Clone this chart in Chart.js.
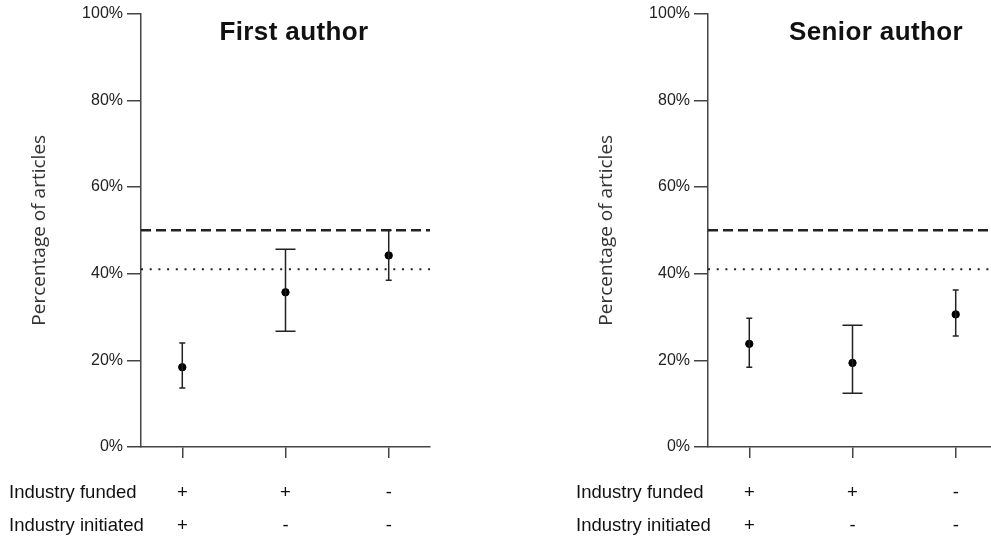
<!DOCTYPE html>
<html>
<head>
<meta charset="utf-8">
<script src="https://cdn.jsdelivr.net/npm/chart.js@4"></script>
<style>
  html, body { margin: 0; padding: 0; background: #fff; }
  body { width: 991px; height: 544px; overflow: hidden; position: relative; }
  .panel { position: absolute; top: 0; width: 567px; height: 544px; }
  .panel canvas { display: block; }
  .title {
    position: absolute; top: 16px; font: bold 26px "Liberation Sans", Arial, sans-serif;
    letter-spacing: 0.4px; color: #111; white-space: nowrap; transform: translateX(-50%);
  }
</style>
</head>
<body>
<div class="panel" style="left:0"><canvas id="firstChart" width="567" height="544"></canvas></div>
<div class="panel" style="left:567px"><canvas id="seniorChart" width="567" height="544"></canvas></div>
<div class="title" style="left:294px">First author</div>
<div class="title" style="left:876px">Senior author</div>
<script>
// categories (x positions) and the two label rows under the x axis
const categories = [0, 1, 2];
const rowLabels = ["Industry funded", "Industry initiated"];
const fundedLabels = ["+", "+", "-"];
const initiatedLabels = ["+", "-", "-"];

// first author: point estimate and CI
const firstMean = [18.4, 35.7, 44.2];
const firstLow = [13.6, 26.7, 38.5];
const firstHigh = [24.0, 45.6, 50.0];

// senior author
const seniorMean = [23.8, 19.4, 30.6];
const seniorLow = [18.4, 12.4, 25.6];
const seniorHigh = [29.7, 28.1, 36.2];

// reference lines
const dashedRef = 50;
const dottedRef = 41;

const yTicks = [0, 20, 40, 60, 80, 100];

// cap half-width per category (px)
const capHalf = [3, 10, 3];

const X_MIN = -0.4, X_MAX = 2.4;
const LABEL_FONT = "Liberation Sans, Arial, sans-serif";
const TICK_LEN_X = 11, TICK_PAD_X = 18, ROW_H = 33, ROW_FONT = 18.5;

const errorBars = {
  id: "errorBars",
  afterDatasetsDraw(chart, args, opts) {
    const { ctx, scales: { x, y } } = chart;
    ctx.save();
    ctx.strokeStyle = "#222";
    ctx.lineWidth = 1.5;
    opts.low.forEach((lo, i) => {
      const px = x.getPixelForValue(categories[i]);
      const y1 = y.getPixelForValue(lo);
      const y2 = y.getPixelForValue(opts.high[i]);
      ctx.beginPath();
      ctx.moveTo(px, y1); ctx.lineTo(px, y2);
      ctx.moveTo(px - capHalf[i], y1); ctx.lineTo(px + capHalf[i], y1);
      ctx.moveTo(px - capHalf[i], y2); ctx.lineTo(px + capHalf[i], y2);
      ctx.stroke();
    });
    ctx.restore();
  }
};

const rowLabelPlugin = {
  id: "rowLabels",
  afterDraw(chart) {
    const { ctx, chartArea } = chart;
    ctx.save();
    ctx.font = ROW_FONT + "px " + LABEL_FONT;
    ctx.fillStyle = "#111";
    ctx.textBaseline = "middle";
    ctx.textAlign = "left";
    rowLabels.forEach((t, i) => {
      const yy = chartArea.bottom + TICK_LEN_X + TICK_PAD_X + ROW_H / 2 + i * ROW_H;
      ctx.fillText(t, 9, yy);
    });
    ctx.restore();
  }
};

function makeChart(id, mean, low, high) {
  const ctx = document.getElementById(id).getContext("2d");
  return new Chart(ctx, {
    type: "scatter",
    data: {
      datasets: [
        {
          label: "mean",
          data: categories.map((c, i) => ({ x: c, y: mean[i] })),
          backgroundColor: "#000",
          borderColor: "#000",
          pointRadius: 3.7,
          order: 0,
        },
        {
          label: "50%",
          type: "line",
          data: [{ x: X_MIN, y: dashedRef }, { x: X_MAX, y: dashedRef }],
          borderColor: "#222",
          borderWidth: 2.5,
          borderDash: [10, 5],
          pointRadius: 0,
          order: 2,
        },
        {
          label: "41%",
          type: "line",
          data: [{ x: X_MIN, y: dottedRef }, { x: X_MAX, y: dottedRef }],
          borderColor: "#222",
          borderWidth: 2,
          borderDash: [2, 6.7],
          pointRadius: 0,
          order: 2,
        },
      ],
    },
    options: {
      responsive: false,
      animation: false,
      layout: { padding: { top: 13, right: 137, left: 0, bottom: 0 } },
      plugins: {
        legend: { display: false },
        tooltip: { enabled: false },
        errorBars: { low: low, high: high },
      },
      scales: {
        x: {
          type: "linear",
          min: X_MIN,
          max: X_MAX,
          afterBuildTicks: (s) => { s.ticks = categories.map((v) => ({ value: v })); },
          afterFit: (s) => { s.height = 97; },
          ticks: {
            callback: (v) => [fundedLabels[v], initiatedLabels[v]],
            font: { family: LABEL_FONT, size: ROW_FONT, lineHeight: ROW_H / ROW_FONT },
            color: "#111",
            padding: TICK_PAD_X,
            maxRotation: 0,
          },
          grid: { drawOnChartArea: false, tickLength: TICK_LEN_X, color: "#444", lineWidth: 1.5 },
          border: { color: "#444", width: 1.5 },
        },
        y: {
          min: 0,
          max: 100,
          afterBuildTicks: (s) => { s.ticks = yTicks.map((v) => ({ value: v })); },
          afterFit: (s) => { s.width = 141; },
          ticks: {
            callback: (v) => v + "%",
            font: { family: LABEL_FONT, size: 16 },
            color: "#222",
            padding: 4,
          },
          grid: { drawOnChartArea: false, tickLength: 14, color: "#444", lineWidth: 1.5 },
          border: { color: "#444", width: 1.5 },
          title: {
            display: true,
            text: "Percentage of articles",
            font: { family: "Open Sans, sans-serif", size: 19 },
            color: "#333",
            padding: { top: 28, bottom: 0 },
          },
        },
      },
    },
    plugins: [errorBars, rowLabelPlugin],
  });
}

makeChart("firstChart", firstMean, firstLow, firstHigh);
makeChart("seniorChart", seniorMean, seniorLow, seniorHigh);
</script>
</body>
</html>
